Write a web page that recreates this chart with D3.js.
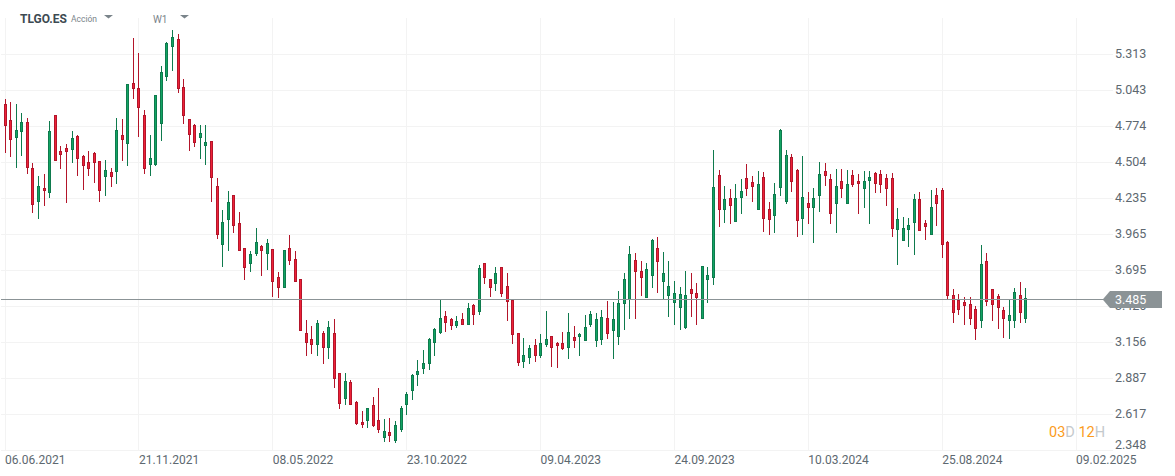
<!DOCTYPE html>
<html><head><meta charset="utf-8">
<script src="https://cdn.jsdelivr.net/npm/d3@7"></script>
<style>html,body{margin:0;padding:0;background:#fff;overflow:hidden}svg{display:block;font-family:Roboto,sans-serif}</style>
</head><body><svg id="c" width="1175" height="476"></svg>
<script>
const open=[4.938,4.818,4.688,4.733,4.803,4.459,4.209,4.309,4.276,4.855,
4.586,4.608,4.598,4.698,4.548,4.504,4.571,4.511,4.396,4.429,
4.434,4.706,4.643,5.095,5.057,4.855,4.493,4.493,4.793,5.145,
5.372,5.424,5.065,4.825,4.780,4.688,4.628,4.661,4.324,3.894,
4.074,4.257,4.047,3.860,3.745,3.820,3.875,3.823,3.852,3.643,
3.572,3.860,3.778,3.628,3.224,3.179,3.138,3.224,3.116,3.224,
2.924,2.734,2.857,2.707,2.557,2.569,2.685,2.572,2.445,2.483,
2.420,2.502,2.689,2.794,2.914,2.959,2.996,3.153,3.228,3.351,
3.328,3.281,3.328,3.291,3.433,3.388,3.748,3.628,3.596,3.720,
3.575,3.473,3.224,3.011,3.048,3.134,3.063,3.138,3.201,3.149,
3.149,3.116,3.194,3.198,3.168,3.288,3.168,3.176,3.336,3.243,
3.198,3.448,3.478,3.770,3.688,3.490,3.658,3.860,3.610,3.505,
3.453,3.415,3.266,3.553,3.523,3.333,3.625,3.647,4.406,4.156,
4.234,4.059,4.246,4.384,4.354,4.156,4.391,4.152,4.104,4.314,
4.216,4.541,4.444,4.082,4.197,4.171,4.254,4.436,4.377,4.197,
4.362,4.201,4.406,4.362,4.306,4.366,4.421,4.414,4.384,4.384,
3.999,3.924,3.999,4.052,4.227,4.049,3.962,4.259,4.296,3.905,
3.508,3.471,3.456,3.441,3.403,3.318,3.763,3.553,3.501,3.396,
3.325,3.318,3.508,3.333];
const high=[4.978,4.955,4.940,4.873,4.835,4.498,4.401,4.416,4.813,4.855,
4.626,4.641,4.738,4.708,4.558,4.588,4.578,4.514,4.521,4.461,
4.835,4.828,5.087,5.434,5.322,4.895,4.708,5.005,5.225,5.404,
5.494,5.464,5.127,4.825,4.788,4.783,4.783,4.661,4.386,4.147,
4.289,4.257,4.129,3.860,3.840,4.010,3.885,3.930,3.852,3.680,
3.845,3.960,3.840,3.628,3.323,3.278,3.321,3.241,3.313,3.331,
2.924,2.924,2.872,2.715,2.642,2.662,2.747,2.814,2.582,2.590,
2.567,2.679,2.782,2.917,3.024,3.099,3.186,3.261,3.475,3.388,
3.336,3.351,3.373,3.448,3.441,3.733,3.748,3.628,3.720,3.720,
3.673,3.473,3.224,3.186,3.134,3.179,3.216,3.388,3.201,3.158,
3.231,3.373,3.276,3.224,3.358,3.388,3.373,3.396,3.463,3.456,
3.540,3.673,3.875,3.823,3.763,3.748,3.930,3.942,3.830,3.763,
3.613,3.568,3.688,3.673,3.598,3.725,3.718,4.594,4.444,4.324,
4.302,4.339,4.377,4.489,4.399,4.436,4.429,4.204,4.347,4.753,
4.594,4.564,4.451,4.549,4.279,4.309,4.504,4.496,4.414,4.451,
4.451,4.444,4.444,4.414,4.436,4.436,4.429,4.444,4.414,4.421,
4.159,4.092,4.085,4.264,4.279,4.072,4.296,4.311,4.311,3.915,
3.555,3.518,3.493,3.493,3.426,3.882,3.823,3.555,3.516,3.418,
3.471,3.561,3.605,3.561];
const low=[4.576,4.553,4.464,4.558,4.419,4.127,4.082,4.179,4.239,4.523,
4.456,4.202,4.501,4.404,4.299,4.404,4.351,4.209,4.254,4.321,
4.344,4.523,4.479,4.980,4.696,4.419,4.404,4.479,4.666,5.122,
5.190,5.025,4.800,4.591,4.621,4.538,4.493,4.209,3.932,3.722,
3.849,3.977,3.849,3.632,3.685,3.805,3.655,3.700,3.498,3.490,
3.572,3.737,3.617,3.243,3.063,3.071,3.056,2.996,3.034,2.816,
2.659,2.689,2.689,2.539,2.517,2.517,2.524,2.480,2.412,2.412,
2.405,2.494,2.614,2.727,2.831,2.921,2.951,3.056,3.221,3.236,
3.251,3.266,3.291,3.291,3.288,3.370,3.602,3.498,3.543,3.498,
3.325,3.146,2.981,2.966,2.996,3.011,3.041,3.123,2.974,2.966,
3.101,3.034,3.116,3.063,3.168,3.273,3.123,3.138,3.183,3.034,
3.138,3.251,3.340,3.340,3.505,3.490,3.572,3.528,3.478,3.348,
3.295,3.251,3.258,3.348,3.295,3.333,3.453,3.590,4.022,4.052,
4.044,4.059,4.119,4.254,4.209,4.156,3.984,3.962,3.977,4.254,
4.194,4.284,3.947,3.962,4.044,3.902,4.134,4.329,4.044,3.977,
4.246,4.201,4.321,4.119,4.164,4.044,4.276,4.276,4.179,3.954,
3.737,3.917,3.872,3.812,3.992,3.930,3.962,4.034,3.795,3.488,
3.310,3.363,3.288,3.295,3.176,3.266,3.430,3.318,3.258,3.191,
3.183,3.266,3.310,3.303];
const close=[4.778,4.673,4.743,4.803,4.464,4.187,4.324,4.291,4.736,4.523,
4.561,4.583,4.683,4.531,4.479,4.456,4.501,4.291,4.444,4.396,
4.743,4.673,5.087,5.055,4.913,4.456,4.533,5.005,5.177,5.394,
5.439,5.055,4.860,4.711,4.651,4.721,4.653,4.389,3.962,4.055,
4.204,4.029,3.849,3.715,3.815,3.905,3.849,3.897,3.610,3.565,
3.845,3.767,3.617,3.243,3.153,3.138,3.298,3.116,3.268,2.884,
2.697,2.864,2.689,2.547,2.539,2.662,2.532,2.502,2.490,2.457,
2.535,2.662,2.767,2.909,2.939,2.999,3.179,3.254,3.336,3.310,
3.281,3.313,3.291,3.411,3.363,3.710,3.641,3.565,3.673,3.520,
3.460,3.213,3.004,3.059,3.111,3.056,3.149,3.179,3.116,3.131,
3.108,3.231,3.168,3.216,3.268,3.366,3.328,3.343,3.221,3.328,
3.448,3.628,3.815,3.685,3.640,3.703,3.920,3.760,3.673,3.575,
3.523,3.516,3.508,3.523,3.490,3.725,3.658,4.317,4.149,4.227,
4.179,4.234,4.287,4.306,4.324,4.339,4.082,4.074,4.264,4.743,
4.556,4.359,4.067,4.242,4.171,4.234,4.414,4.406,4.119,4.324,
4.306,4.339,4.336,4.344,4.362,4.391,4.344,4.336,4.306,4.007,
4.077,4.010,4.032,4.227,3.992,4.022,4.167,4.201,3.894,3.510,
3.385,3.400,3.430,3.340,3.258,3.740,3.460,3.438,3.415,3.333,
3.358,3.531,3.385,3.485];
const priceTicks=[5.313,5.043,4.774,4.504,4.235,3.965,3.695,3.426,3.156,2.887,2.617,2.348];
const dateLabels=["06.06.2021","21.11.2021","08.05.2022","23.10.2022","09.04.2023","24.09.2023","10.03.2024","25.08.2024","09.02.2025"];
const weeksPerLabel=24;
const lastPrice=3.485;

const svg=d3.select("#c");
const x=d3.scaleLinear().domain([0,192]).range([5.3,1076.3]);
const y=d3.scaleLinear().domain([2.348,5.313]).range([450.5,54.5]);
const dateIdx=dateLabels.map((d,i)=>i*weeksPerLabel);
const sx=i=>Math.floor(x(i)-0.2)+0.5;   // snap to the pixel column
const sy=p=>Math.floor(y(p))+0.5;       // snap to the pixel row

const GRID="#f3f3f3",TXT="#5d6870";
const gy=svg.append("g");
gy.selectAll("line").data(priceTicks).join("line")
  .attr("x1",1).attr("x2",1113).attr("y1",d=>sy(d)).attr("y2",d=>sy(d))
  .attr("stroke",GRID).attr("stroke-width",1);
const gx=svg.append("g");
gx.selectAll("line").data(dateIdx).join("line")
  .attr("x1",d=>sx(d)).attr("x2",d=>sx(d)).attr("y1",18).attr("y2",451)
  .attr("stroke",GRID).attr("stroke-width",1);

// axes
const ay=svg.append("g").attr("transform","translate(1115,0)")
  .call(d3.axisRight(y).tickValues(priceTicks).tickFormat(d3.format(".3f")).tickSize(0).tickPadding(0));
ay.select(".domain").remove();
ay.selectAll("text").attr("fill",TXT).attr("font-size",12.5).attr("font-family","Roboto")
  .attr("dy",d=>d===2.348?"-0.17em":"0.24em");
const ax=svg.append("g").attr("transform","translate(-0.7,452)")
  .call(d3.axisBottom(x).tickValues(dateIdx).tickFormat((d,i)=>dateLabels[i]).tickSize(0).tickPadding(3));
ax.select(".domain").remove();
ax.selectAll("text").attr("fill",TXT).attr("font-size",12).attr("font-family","Roboto").attr("text-anchor","start").attr("dy","0.71em");

// candles
const idx=d3.range(open.length);
const col=i=>close[i]>=open[i];
const gc=svg.append("g");
gc.selectAll("line").data(idx).join("line")
  .attr("x1",i=>sx(i)).attr("x2",i=>sx(i)).attr("y1",i=>sy(high[i])-0.5).attr("y2",i=>sy(low[i])+0.5)
  .attr("stroke",i=>col(i)?"#0e7a4d":"#b3152a").attr("stroke-width",1);
gc.selectAll("rect").data(idx).join("rect")
  .attr("x",i=>sx(i)-1).attr("width",2)
  .attr("y",i=>sy(Math.max(open[i],close[i])))
  .attr("height",i=>Math.max(1,sy(Math.min(open[i],close[i]))-sy(Math.max(open[i],close[i]))))
  .attr("fill",i=>col(i)?"#12a463":"#ee2238")
  .attr("stroke",i=>col(i)?"#0e7a4d":"#b3152a").attr("stroke-width",1);

// last price
const ly=Math.floor(y(lastPrice)+0.5)+0.5;
svg.append("line").attr("x1",1).attr("x2",1104).attr("y1",ly).attr("y2",ly).attr("stroke","#8b9396").attr("stroke-width",1);
svg.append("path").attr("d",`M1102.7,${ly}L1110,${ly-8.5}H1162V${ly+8.5}H1110Z`).attr("fill","#8b9396");
svg.append("text").attr("x",1115).attr("y",ly).attr("dy","0.34em").attr("fill","#fff").attr("font-size",12.5).text(lastPrice.toFixed(3));

// header
svg.append("text").attr("x",20).attr("y",23).attr("font-size",12).attr("font-weight",700).attr("fill","#3d4a52").text("TLGO.ES");
svg.append("text").attr("x",71).attr("y",22).attr("font-size",8.5).attr("fill","#7a848a").text("Acción");
svg.append("text").attr("x",153).attr("y",23).attr("font-size",10).attr("fill","#7a848a").text("W1");
svg.append("path").attr("d","M104,15H113L108.5,18.5Z").attr("fill","#7a848a");
svg.append("path").attr("d","M180,15H189L184.5,18.5Z").attr("fill","#7a848a");

// countdown
const cd=svg.append("text").attr("x",1049).attr("y",436.5).attr("font-size",14.5);
[["03","#fb9c1c"],["D","#c4c9cc"],[" 12","#fb9c1c"],["H","#c4c9cc"]].forEach(([t,c])=>cd.append("tspan").attr("fill",c).attr("xml:space","preserve").text(t));
</script></body></html>
